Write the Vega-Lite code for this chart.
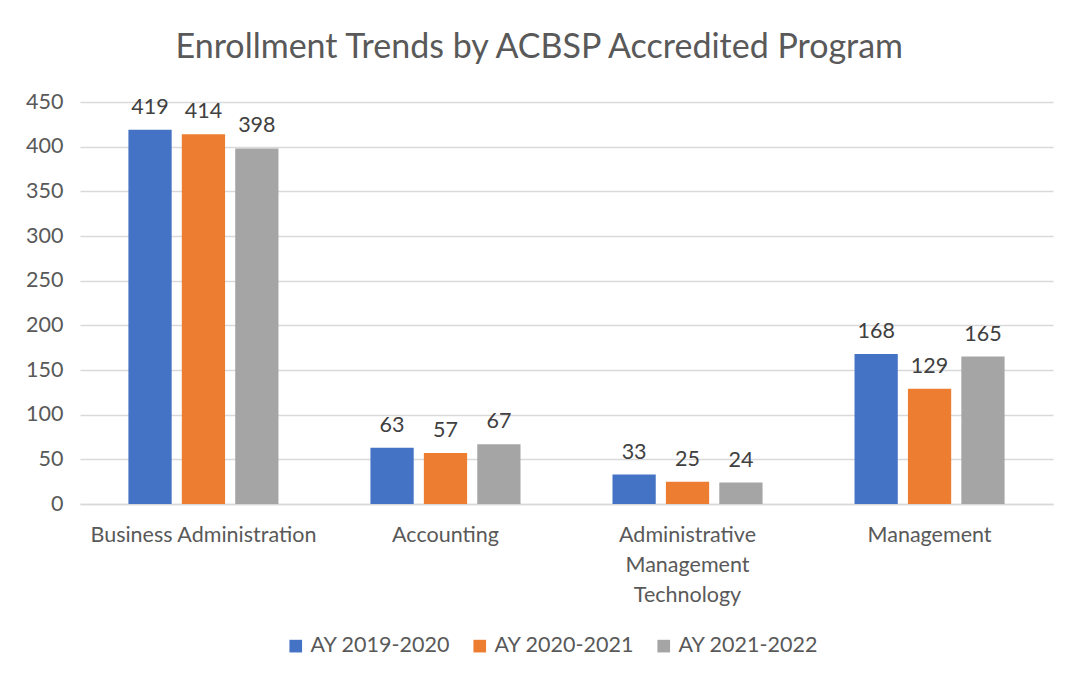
{
  "$schema": "https://vega.github.io/schema/vega-lite/v6.json",
  "autosize": {"type": "none"},
  "width": 973,
  "height": 402,
  "padding": {"left": 80, "top": 102, "right": 18, "bottom": 179},
  "background": "white",
  "title": {
    "text": "Enrollment Trends by ACBSP Accredited Program",
    "frame": "bounds",
    "anchor": "middle",
    "offset": 26,
    "fontSize": 34,
    "font": "Lato",
    "fontWeight": "normal",
    "color": "#595959"
  },
  "data": {
    "values": [
      {"program": "Business Administration", "year": "AY 2019-2020", "enrollment": 419},
      {"program": "Business Administration", "year": "AY 2020-2021", "enrollment": 414},
      {"program": "Business Administration", "year": "AY 2021-2022", "enrollment": 398},
      {"program": "Accounting", "year": "AY 2019-2020", "enrollment": 63},
      {"program": "Accounting", "year": "AY 2020-2021", "enrollment": 57},
      {"program": "Accounting", "year": "AY 2021-2022", "enrollment": 67},
      {"program": "Administrative Management Technology", "year": "AY 2019-2020", "enrollment": 33},
      {"program": "Administrative Management Technology", "year": "AY 2020-2021", "enrollment": 25},
      {"program": "Administrative Management Technology", "year": "AY 2021-2022", "enrollment": 24},
      {"program": "Management", "year": "AY 2019-2020", "enrollment": 168},
      {"program": "Management", "year": "AY 2020-2021", "enrollment": 129},
      {"program": "Management", "year": "AY 2021-2022", "enrollment": 165}
    ]
  },
  "encoding": {
    "x": {
      "field": "program",
      "type": "nominal",
      "sort": ["Business Administration", "Accounting", "Administrative Management Technology", "Management"],
      "scale": {"paddingInner": 0.38, "paddingOuter": 0.2},
      "axis": {
        "title": null,
        "labelAngle": 0,
        "labelFont": "Lato",
        "labelFontSize": 21.5,
        "labelColor": "#595959",
        "labelPadding": 20,
        "labelLimit": 400,
        "labelLineHeight": 30,
        "labelExpr": "datum.value == 'Administrative Management Technology' ? ['Administrative', 'Management', 'Technology'] : datum.value",
        "ticks": false,
        "domainColor": "#d9d9d9",
        "domainWidth": 1.5,
        "grid": false
      }
    },
    "xOffset": {
      "field": "year",
      "type": "nominal",
      "scale": {"paddingInner": 0.19, "paddingOuter": 0}
    },
    "y": {
      "field": "enrollment",
      "type": "quantitative",
      "scale": {"domain": [0, 450]},
      "axis": {
        "title": null,
        "values": [0, 50, 100, 150, 200, 250, 300, 350, 400, 450],
        "labelFont": "Lato",
        "labelFontSize": 21.5,
        "labelColor": "#595959",
        "labelPadding": 17,
        "ticks": false,
        "domain": false,
        "gridColor": "#d9d9d9",
        "gridWidth": 1.5
      }
    }
  },
  "layer": [
    {
      "mark": {"type": "bar"},
      "encoding": {
        "color": {
          "field": "year",
          "type": "nominal",
          "scale": {"range": ["#4472C4", "#ED7D31", "#A5A5A5"]},
          "legend": {
            "title": null,
            "orient": "none",
            "legendX": 205,
            "legendY": 533,
            "direction": "horizontal",
            "symbolType": "square",
            "symbolSize": 160,
            "symbolStrokeWidth": 0,
            "labelFont": "Lato",
            "labelFontSize": 21.5,
            "labelColor": "#595959",
            "labelOffset": 4,
            "columnPadding": 18
          }
        }
      }
    },
    {
      "mark": {"type": "text", "baseline": "bottom", "dy": -11, "font": "Lato", "fontSize": 21.5, "color": "#404040"},
      "encoding": {
        "text": {"field": "enrollment", "type": "quantitative"}
      }
    }
  ],
  "config": {
    "view": {"stroke": null}
  }
}
